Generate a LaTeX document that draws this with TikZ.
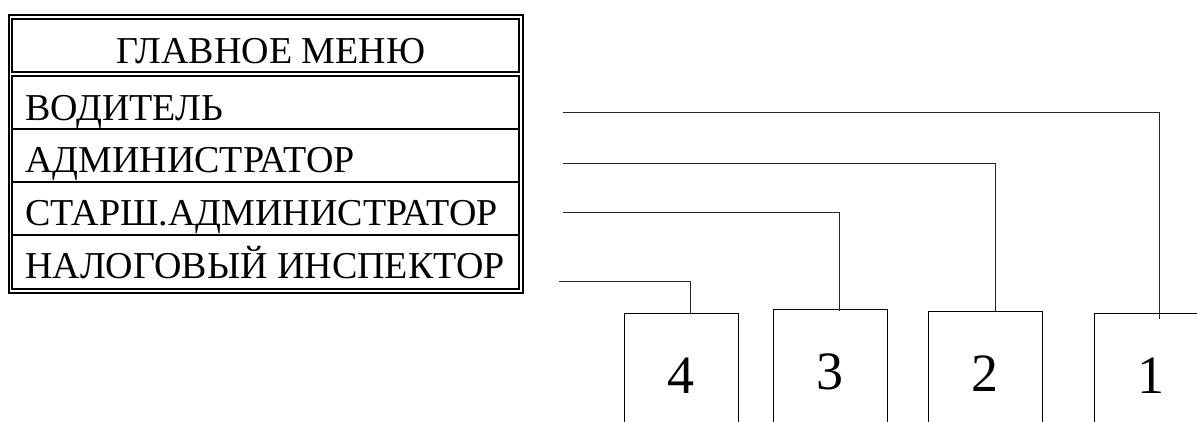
\documentclass[tikz,border=0pt]{standalone}
\usepackage{fontspec}
\setmainfont{Liberation Serif}
\usepackage{tikz}
\tikzset{
  frameline/.style={line width=1.3pt},
  menurow/.style={anchor=base west,inner sep=0pt,font=\fontsize{38}{42}\selectfont},
  digitbox/.style={draw,line width=0.9pt,minimum width=114pt,minimum height=126pt,inner sep=0pt,font=\fontsize{54}{60}\selectfont},
  link/.style={line width=0.9pt,draw=black!85}
}

\begin{document}
\begin{tikzpicture}[x=1pt,y=-1pt]
  \useasboundingbox (0,0) rectangle (1197,421);
  \clip (0,0) rectangle (1197,421);
  % menu frame
  \draw[frameline] (9,15) rectangle (523,293);
  \draw[frameline] (12,19) rectangle (519,72);
  \draw[frameline] (12,76) rectangle (519,289);
  \draw[frameline] (12,129) -- (519,129);
  \draw[frameline] (12,182) -- (519,182);
  \draw[frameline] (12,235) -- (519,235);
  \node[menurow,anchor=base] (title) at (271,63) {ГЛАВНОЕ МЕНЮ};
  \node[menurow] (vod) at (25,120) {ВОДИТЕЛЬ};
  \node[menurow] (adm) at (25,172) {АДМИНИСТРАТОР};
  \node[menurow] (star) at (25,225) {СТАРШ.АДМИНИСТРАТОР};
  \node[menurow] (nal) at (25,278) {НАЛОГОВЫЙ ИНСПЕКТОР};
  % numbered boxes, cut by the page edge
  \node[digitbox] (b4) at (681,376) {4};
  \node[digitbox] (b3) at (830,372) {3};
  \node[digitbox] (b2) at (985,374) {2};
  \node[digitbox] (b1) at (1151,376) {1};
  % connectors
  \coordinate (s1) at (563,112);
  \coordinate (s2) at (563,163);
  \coordinate (s3) at (563,212);
  \coordinate (s4) at (559,281);
  \draw[link] (s1) -| ([xshift=8pt,yshift=-6pt]b1.north);
  \draw[link] (s2) -| ([xshift=10pt]b2.north);
  \draw[link] (s3) -| ([xshift=9pt,yshift=-2pt]b3.north);
  \draw[link] (s4) -| ([xshift=9pt]b4.north);
\end{tikzpicture}
\end{document}
